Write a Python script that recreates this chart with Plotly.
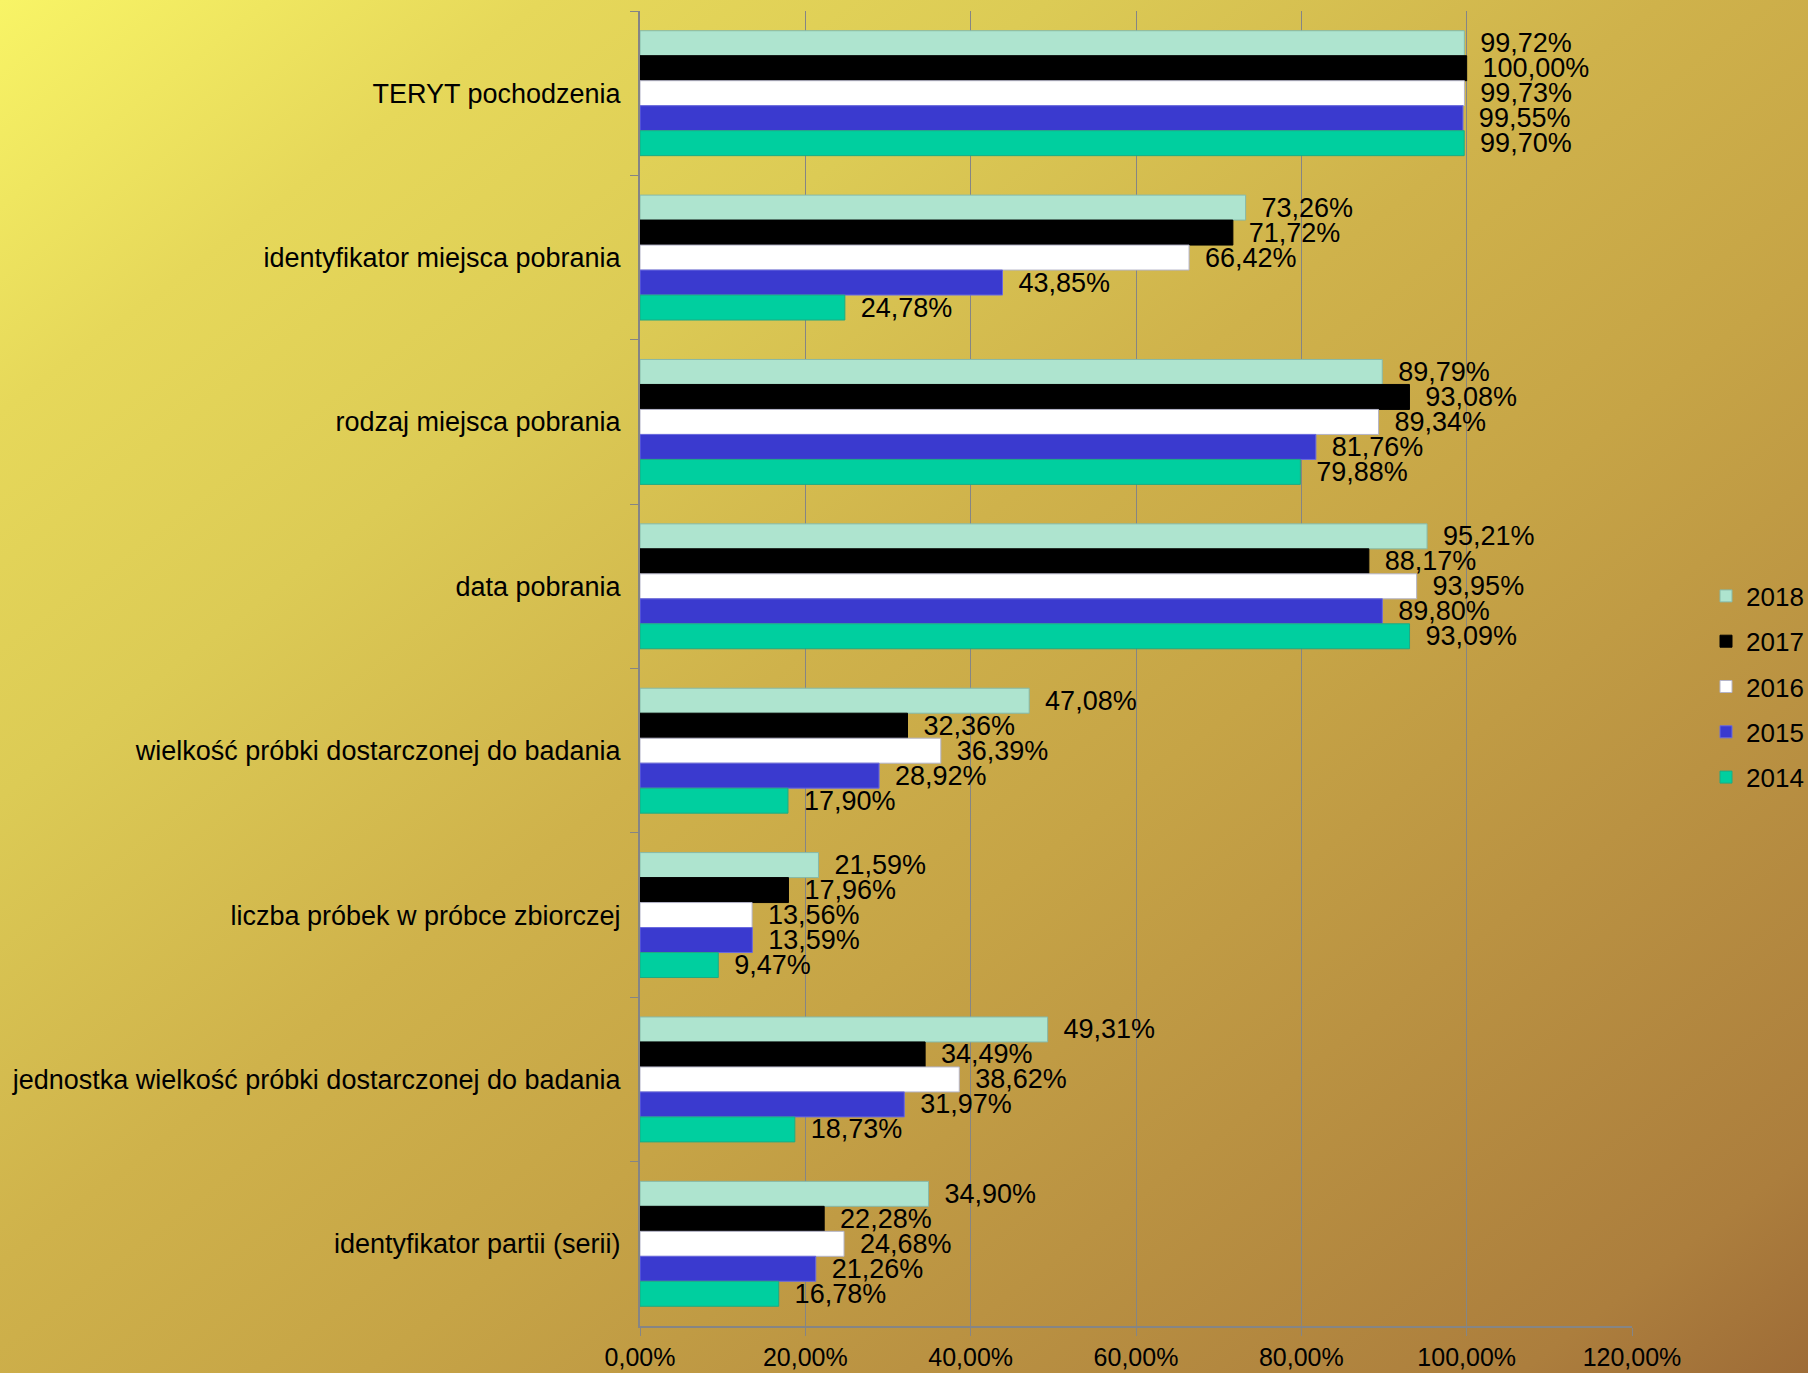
import base64
import plotly.graph_objects as go

categories = [
    "TERYT pochodzenia",
    "identyfikator miejsca pobrania",
    "rodzaj miejsca pobrania",
    "data pobrania",
    "wielkość próbki dostarczonej do badania",
    "liczba próbek w próbce zbiorczej",
    "jednostka wielkość próbki dostarczonej do badania",
    "identyfikator partii (serii)",
]

y2018 = [99.72, 73.26, 89.79, 95.21, 47.08, 21.59, 49.31, 34.90]
y2017 = [100.00, 71.72, 93.08, 88.17, 32.36, 17.96, 34.49, 22.28]
y2016 = [99.73, 66.42, 89.34, 93.95, 36.39, 13.56, 38.62, 24.68]
y2015 = [99.55, 43.85, 81.76, 89.80, 28.92, 13.59, 31.97, 21.26]
y2014 = [99.70, 24.78, 79.88, 93.09, 17.90, 9.47, 18.73, 16.78]

tick_vals = [0, 20, 40, 60, 80, 100, 120]
tick_text = ["0,00%", "20,00%", "40,00%", "60,00%", "80,00%", "100,00%", "120,00%"]

series = [
    ("2018", y2018, "#aee4cf", "#86b9a8"),
    ("2017", y2017, "#000000", "#000000"),
    ("2016", y2016, "#ffffff", "#b4b4c8"),
    ("2015", y2015, "#3a3acf", "#6a6ae0"),
    ("2014", y2014, "#00cf9f", "#1faa82"),
]

FONT = "Liberation Sans, Arial, sans-serif"
W, H = 1808, 1373
ML, MR, MT, MB = 640, 176, 11, 47
PW, PH = W - ML - MR, H - MT - MB

fig = go.Figure()
for name, vals, col, lcol in series:
    fig.add_trace(go.Bar(
        name=name, y=categories, x=vals, orientation="h",
        marker=dict(color=col, line=dict(color=lcol, width=1)),
        texttemplate="\u00a0\u2009%{x:.2f}%", textposition="outside",
        constraintext="none", cliponaxis=False,
        textfont=dict(family=FONT, size=27, color="#000000"),
        legendgroup=name,
    ))

svg = (
    f'<svg xmlns="http://www.w3.org/2000/svg" width="{W}" height="{H}" '
    f'viewBox="0 0 {W} {H}" preserveAspectRatio="none">'
    '<defs><linearGradient id="g" x1="0" y1="0" x2="1" y2="1">'
    '<stop offset="0" stop-color="#f8f466"/>'
    '<stop offset="0.15" stop-color="#e6d85a"/>'
    '<stop offset="0.29" stop-color="#dccb55"/>'
    '<stop offset="0.46" stop-color="#cfb24b"/>'
    '<stop offset="0.6" stop-color="#c6a446"/>'
    '<stop offset="0.75" stop-color="#ba9242"/>'
    '<stop offset="0.92" stop-color="#ac7e3d"/>'
    '<stop offset="1" stop-color="#9e6c37"/>'
    '</linearGradient></defs>'
    f'<rect x="0" y="0" width="{W}" height="{H}" fill="url(#g)"/></svg>'
)
src = "data:image/svg+xml;base64," + base64.b64encode(svg.encode()).decode()

fig.add_layout_image(dict(
    source=src, xref="paper", yref="paper",
    x=-ML / PW, y=1 + MT / PH, sizex=W / PW, sizey=H / PH,
    xanchor="left", yanchor="top", sizing="stretch", layer="below",
))

fig.update_layout(
    width=W, height=H,
    margin=dict(l=ML, r=MR, t=MT, b=MB, autoexpand=False),
    paper_bgcolor="rgba(0,0,0,0)", plot_bgcolor="rgba(0,0,0,0)",
    barmode="group", bargap=0.24, bargroupgap=0,
    font=dict(family=FONT, size=25, color="#000000"),
    separators=",.",
    legend=dict(
        x=(1706 - ML) / PW, xanchor="left", y=(1326 - 687) / PH, yanchor="middle",
        font=dict(family=FONT, size=26, color="#000000"),
        bgcolor="rgba(0,0,0,0)", tracegroupgap=8.5, traceorder="grouped",
        itemwidth=30,
    ),
    showlegend=True,
)

fig.update_xaxes(
    range=[0, 120], tickvals=tick_vals, ticktext=tick_text,
    showgrid=True, gridcolor="#858585", gridwidth=1,
    showline=True, linecolor="#858585", linewidth=2,
    ticks="outside", ticklen=8, tickcolor="#858585", tickwidth=1,
    zeroline=False, fixedrange=True,
    tickfont=dict(family=FONT, size=25, color="#000000"),
)
fig.update_yaxes(
    categoryorder="array", categoryarray=categories, autorange="reversed",
    showline=True, linecolor="#858585", linewidth=2,
    ticks="outside", ticklen=8, tickcolor="#858585", tickwidth=1,
    tickson="boundaries", showgrid=False, fixedrange=True,
    tickfont=dict(family=FONT, size=27, color="#000000"),
    ticklabelstandoff=12,
)

fig.write_html(
    "out.html",
    config={"displayModeBar": False},
    post_script="document.body.style.margin='0';document.body.style.overflow='hidden';",
)
